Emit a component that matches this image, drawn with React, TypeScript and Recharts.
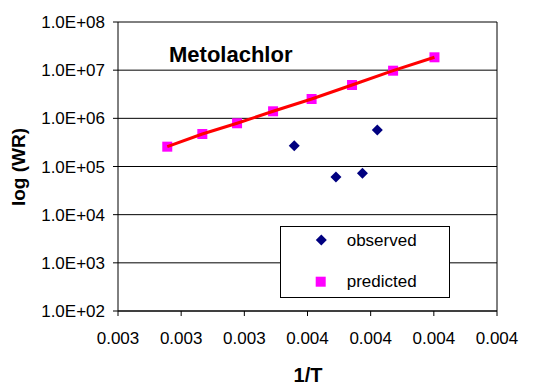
import React from 'react';
import { ScatterChart, Scatter, XAxis, YAxis, CartesianGrid, ReferenceLine } from 'recharts';

const xTicks = [0.003, 0.0032, 0.0034, 0.0036, 0.0038, 0.004, 0.0042];
const yTicks = [1e2, 1e3, 1e4, 1e5, 1e6, 1e7, 1e8];
const yTickLabels = ['1.0E+02', '1.0E+03', '1.0E+04', '1.0E+05', '1.0E+06', '1.0E+07', '1.0E+08'];

const observedX = [0.003558, 0.00369, 0.003774, 0.003821];
const observedY = [2.7e5, 6.06e4, 7.2e4, 5.73e5];

const predictedX = [0.003156, 0.003267, 0.003377, 0.003491, 0.003613, 0.003741, 0.003871, 0.004002];
const predictedY = [2.58e5, 4.73e5, 7.9e5, 1.4e6, 2.52e6, 4.92e6, 9.75e6, 1.85e7];

const observed = observedX.map((x, i) => ({ x, y: observedY[i] }));
const predicted = predictedX.map((x, i) => ({ x, y: predictedY[i] }));

const FONT = '"Liberation Sans", Arial, sans-serif';

const Diamond = (props: any) => {
  const { cx, cy } = props;
  if (cx == null || cy == null) return <g />;
  const r = 5.5;
  return <polygon points={`${cx},${cy - r} ${cx + r},${cy} ${cx},${cy + r} ${cx - r},${cy}`} fill="#000080" />;
};

const Square = (props: any) => {
  const { cx, cy } = props;
  if (cx == null || cy == null) return <g />;
  const s = 10;
  return <rect x={cx - s / 2} y={cy - s / 2} width={s} height={s} fill="#FF00FF" />;
};

const Nothing = () => <g />;

export default function App() {
  return (
    <div style={{ position: 'absolute', left: 0, top: 0, width: 547, height: 386, background: '#fff' }}>
      <ScatterChart width={547} height={386} margin={{ top: 22, right: 50, bottom: 45, left: 0 }}>
        <CartesianGrid horizontal vertical={false} stroke="#000" strokeWidth={1} />
        <XAxis
          type="number"
          dataKey="x"
          domain={[0.003, 0.0042]}
          ticks={xTicks}
          interval={0}
          allowDataOverflow
          height={30}
          tickSize={5}
          tickMargin={16}
          tickFormatter={(v: number) => v.toFixed(3)}
          tick={{ fill: '#000', fontSize: 17, fontFamily: FONT }}
          stroke="#000"
        />
        <YAxis
          type="number"
          dataKey="y"
          scale="log"
          domain={[1e2, 1e8]}
          ticks={yTicks}
          interval={0}
          allowDataOverflow
          width={118}
          tickSize={5}
          tickMargin={8}
          tickFormatter={(v: number) => yTickLabels[yTicks.indexOf(v)] ?? ''}
          tick={{ fill: '#000', fontSize: 17, fontFamily: FONT }}
          stroke="#000"
        />
        <ReferenceLine x={0.0042} stroke="#000" strokeWidth={1} />
        <Scatter data={observed} shape={Diamond} isAnimationActive={false} />
        <Scatter data={predicted} shape={Square} isAnimationActive={false} />
        <Scatter
          data={predicted}
          shape={Nothing}
          line={{ stroke: '#FF0000', strokeWidth: 3 }}
          lineType="joint"
          isAnimationActive={false}
        />
      </ScatterChart>
      <svg width={547} height={386} style={{ position: 'absolute', left: 0, top: 0, pointerEvents: 'none' }}>
        <text x={169} y={62} fontFamily={FONT} fontWeight="bold" fontSize={22} fill="#000">Metolachlor</text>
        <text
          x={0}
          y={0}
          transform="translate(25,167) rotate(-90)"
          textAnchor="middle"
          fontFamily={FONT}
          fontWeight="bold"
          fontSize={19}
          fill="#000"
        >
          log (WR)
        </text>
        <text x={308} y={382} textAnchor="middle" fontFamily={FONT} fontWeight="bold" fontSize={20} fill="#000">1/T</text>
        <rect x={280.5} y={226.5} width={169} height={71} fill="#fff" stroke="#000" strokeWidth={1} />
        <polygon points="321.3,234.5 326.8,240 321.3,245.5 315.8,240" fill="#000080" />
        <text x={346.7} y={246} fontFamily={FONT} fontSize={17} fill="#000">observed</text>
        <rect x={315.7} y={276.7} width={10} height={10} fill="#FF00FF" />
        <text x={346.7} y={287} fontFamily={FONT} fontSize={17} fill="#000">predicted</text>
      </svg>
    </div>
  );
}
